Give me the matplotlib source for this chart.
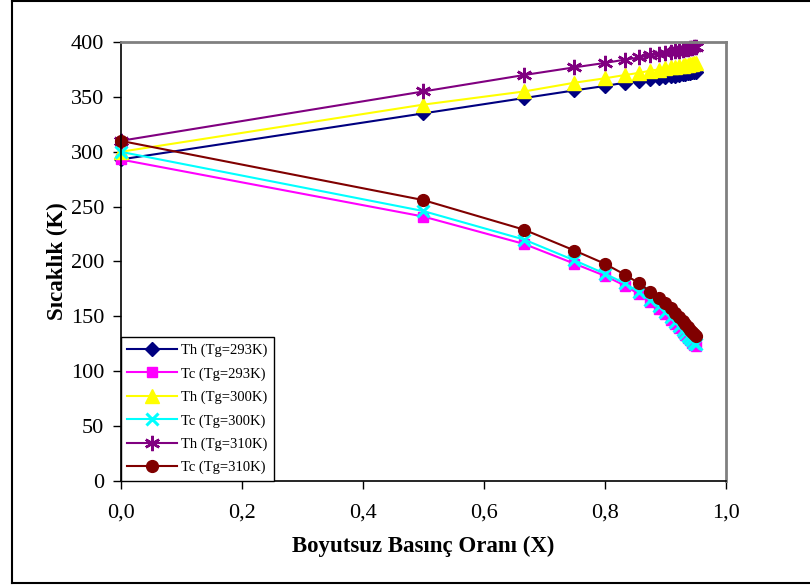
import matplotlib
matplotlib.use("Agg")
import matplotlib.pyplot as plt
from matplotlib.lines import Line2D

plt.rcParams['font.family'] = ['Liberation Serif', 'DejaVu Serif']

x = [0.0, 0.5, 0.6667, 0.75, 0.8, 0.8333, 0.8571, 0.875, 0.8889, 0.9,
     0.9091, 0.9167, 0.9231, 0.9286, 0.9333, 0.9375, 0.9412, 0.9444, 0.9474, 0.95]

th_293 = [293, 335, 349, 356, 360, 363, 365, 366.5, 367.5, 368.5,
          369, 369.5, 370, 370.5, 371, 371.5, 372, 372.5, 373, 373]
tc_293 = [293, 241, 216, 198, 187, 178, 170, 163, 157, 152,
          147, 143, 139, 136, 133, 130, 128, 126, 124, 123]
th_300 = [300, 343, 355, 363, 367, 370, 372, 374, 375, 376,
          377, 377.5, 378, 378.5, 379, 379.5, 380, 380.5, 381, 381]
tc_300 = [300, 246, 220, 201, 189, 180, 172, 165, 159, 154,
          149, 145, 141, 138, 135, 132, 130, 128, 126, 125]
th_310 = [310, 355, 370, 377, 381, 384, 386, 388, 389, 390,
          391, 391.5, 392, 393, 393.5, 394, 394.5, 395, 395.5, 396]
tc_310 = [310, 256, 229, 210, 198, 188, 180, 172.5, 167, 162,
          157.5, 153, 149, 146, 143, 140, 138, 136, 134, 132]

labels = ["Th (Tg=293K)", "Tc (Tg=293K)", "Th (Tg=300K)",
          "Tc (Tg=300K)", "Th (Tg=310K)", "Tc (Tg=310K)"]
x_ticks = [0.0, 0.2, 0.4, 0.6, 0.8, 1.0]
x_ticklabels = ["0,0", "0,2", "0,4", "0,6", "0,8", "1,0"]
y_ticks = [0, 50, 100, 150, 200, 250, 300, 350, 400]

series = [th_293, tc_293, th_300, tc_300, th_310, tc_310]
colors = ["#000080", "#FF00FF", "#FFFF00", "#00FFFF", "#800080", "#800000"]
markers = ["D", "s", "^", "x", (6, 2, 0), "o"]
msizes = [7.5, 7.5, 9.5, 8.5, 11, 8.5]
mews = [1, 1, 1, 2.2, 1.8, 1]

fig = plt.figure(figsize=(8.1, 5.85), dpi=100)
ax = fig.add_axes([0.149, 0.178, 0.747, 0.750])

for ys, c, m, ms, mw, lab in zip(series, colors, markers, msizes, mews, labels):
    ax.plot(x, ys, color=c, marker=m, markersize=ms, markeredgewidth=mw,
            markeredgecolor=c, markerfacecolor=c, linewidth=1.5, label=lab,
            clip_on=False)

ax.set_xlim(0, 1.0)
ax.set_ylim(0, 400)
ax.set_xticks(x_ticks)
ax.set_xticklabels(x_ticklabels)
ax.set_yticks(y_ticks)
ax.tick_params(axis='both', direction='out', length=6, width=1, labelsize=16,
               colors='black')
ax.tick_params(axis='x', pad=10)
ax.tick_params(axis='y', pad=6)

for s in ['left', 'bottom']:
    ax.spines[s].set_color('black')
    ax.spines[s].set_linewidth(1.2)
for s in ['top', 'right']:
    ax.spines[s].set_color('#808080')
    ax.spines[s].set_linewidth(2)

ax.set_xlabel("Boyutsuz Basınç Oranı (X)", fontsize=16.5, fontweight='bold', labelpad=10)
ax.set_ylabel("Sıcaklık (K)", fontsize=16.5, fontweight='bold', labelpad=2)

leg = ax.legend(loc='lower left', bbox_to_anchor=(0.0, 0.0), fontsize=10.5,
                frameon=True, fancybox=False, edgecolor='black', framealpha=1,
                borderaxespad=0.0, handlelength=3.4, labelspacing=0.68,
                handletextpad=0.3, borderpad=0.45)
leg.get_frame().set_linewidth(1)

# outer border
fig.add_artist(Line2D([12/810, 12/810], [1 - 583/585, 1 - 1/585], color='black', lw=1.5))
fig.add_artist(Line2D([12/810, 1.0], [1 - 1/585, 1 - 1/585], color='black', lw=1.5))
fig.add_artist(Line2D([12/810, 1.0], [1 - 583/585, 1 - 583/585], color='black', lw=1.5))

fig.savefig("out.png", dpi=100, facecolor='white')
